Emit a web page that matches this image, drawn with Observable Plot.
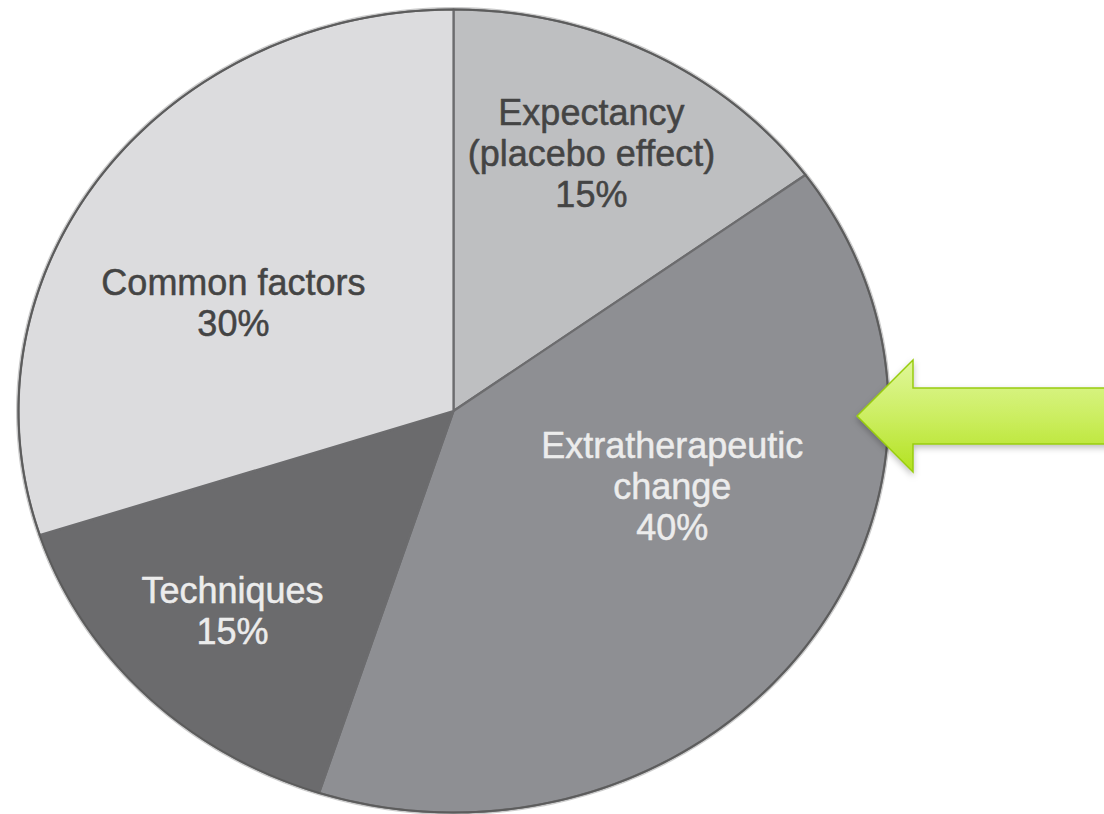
<!DOCTYPE html>
<html>
<head>
<meta charset="utf-8">
<script src="https://cdn.jsdelivr.net/npm/d3@7"></script>
<script src="https://cdn.jsdelivr.net/npm/@observablehq/plot@0.6"></script>
<style>
  html, body { margin: 0; padding: 0; background: #ffffff; }
  #chart { width: 1104px; height: 814px; overflow: hidden; }
</style>
</head>
<body>
<div id="chart"></div>
<script>
// ---- data ----
const categories = ["Expectancy", "Extratherapeutic change", "Techniques", "Common factors"];
const labels = ["Expectancy\n(placebo effect)\n15%", "Extratherapeutic\nchange\n40%", "Techniques\n15%", "Common factors\n30%"];
const values = [15, 40, 15, 30];

// ---- styles / layout (not data) ----
const fills = ["#bebfc1", "#8e8f93", "#6b6b6d", "#dcdcde"];
const textColors = ["#444444", "#ececec", "#ececec", "#444444"];
const labelAnchor = [[0.317, 0.644], [0.503, -0.186], [-0.508, -0.497], [-0.506, 0.270]];

const total = d3.sum(values);
let acc = 0;
const slices = values.map((v, i) => {
  const a0 = acc / total * 2 * Math.PI;
  acc += v;
  const a1 = acc / total * 2 * Math.PI;
  return {i, category: categories[i], label: labels[i], a0, a1};
});

function slicePoints(s) {
  const pts = [{x: 0, y: 0}];
  const n = Math.max(8, Math.ceil((s.a1 - s.a0) / (Math.PI / 180)));
  for (let k = 0; k <= n; k++) {
    const a = s.a0 + (s.a1 - s.a0) * k / n;
    pts.push({x: Math.sin(a), y: Math.cos(a)});
  }
  return pts;
}
const ring = d3.range(0, 361).map(d => ({x: Math.sin(d * Math.PI / 180), y: Math.cos(d * Math.PI / 180)}));

const labelData = slices.map(s => ({text: s.label, x: labelAnchor[s.i][0], y: labelAnchor[s.i][1], color: textColors[s.i]}));

const plot = Plot.plot({
  width: 1104,
  height: 814,
  margin: 0,
  x: {domain: [-1, 1], range: [18, 888], axis: null},
  y: {domain: [-1, 1], range: [812, 9], axis: null},
  style: {background: "transparent", fontFamily: "'Liberation Sans', Arial, Helvetica, sans-serif"},
  marks: [
    Plot.line(ring, {x: "x", y: "y", stroke: "#9a9a9a", strokeWidth: 5, strokeOpacity: 0.5, curve: "linear-closed"}),
    ...slices.map(s => Plot.line(slicePoints(s), {x: "x", y: "y", fill: fills[s.i], stroke: "#6c6c6e", strokeWidth: 2.2, strokeLinejoin: "round", curve: "linear-closed"})),
    Plot.line(ring, {x: "x", y: "y", stroke: "#5c5c5c", strokeWidth: 1.8, curve: "linear-closed"}),
    Plot.text(labelData, {x: "x", y: "y", text: "text", fill: "color", stroke: "color", strokeWidth: 0.5, fontSize: 36, lineHeight: 1.14, textAnchor: "middle", lineAnchor: "middle"})
  ]
});

document.getElementById("chart").appendChild(plot);

// ---- decorative green arrow pointing at the 40% slice ----
const svg = d3.select(plot);
const defs = svg.insert("defs", ":first-child");
const grad = defs.append("linearGradient").attr("id", "arrowGrad").attr("x1", 0).attr("y1", 0).attr("x2", 0).attr("y2", 1);
grad.append("stop").attr("offset", "0%").attr("stop-color", "#e0f79a");
grad.append("stop").attr("offset", "50%").attr("stop-color", "#ccee62");
grad.append("stop").attr("offset", "100%").attr("stop-color", "#b3e21f");
const shadow = defs.append("filter").attr("id", "arrowShadow").attr("x", "-10%").attr("y", "-20%").attr("width", "130%").attr("height", "150%");
shadow.append("feDropShadow").attr("dx", 0).attr("dy", 3).attr("stdDeviation", 3).attr("flood-color", "#000").attr("flood-opacity", 0.25);
const arrowShape = [[857, 416], [913, 360], [913, 388], [1110, 388], [1110, 444], [913, 444], [913, 472]];
svg.append("path")
  .attr("d", d3.line()(arrowShape) + "Z")
  .attr("fill", "url(#arrowGrad)")
  .attr("stroke", "#98cc10")
  .attr("stroke-width", 1.5)
  .attr("stroke-linejoin", "miter")
  .attr("filter", "url(#arrowShadow)");
</script>
</body>
</html>
